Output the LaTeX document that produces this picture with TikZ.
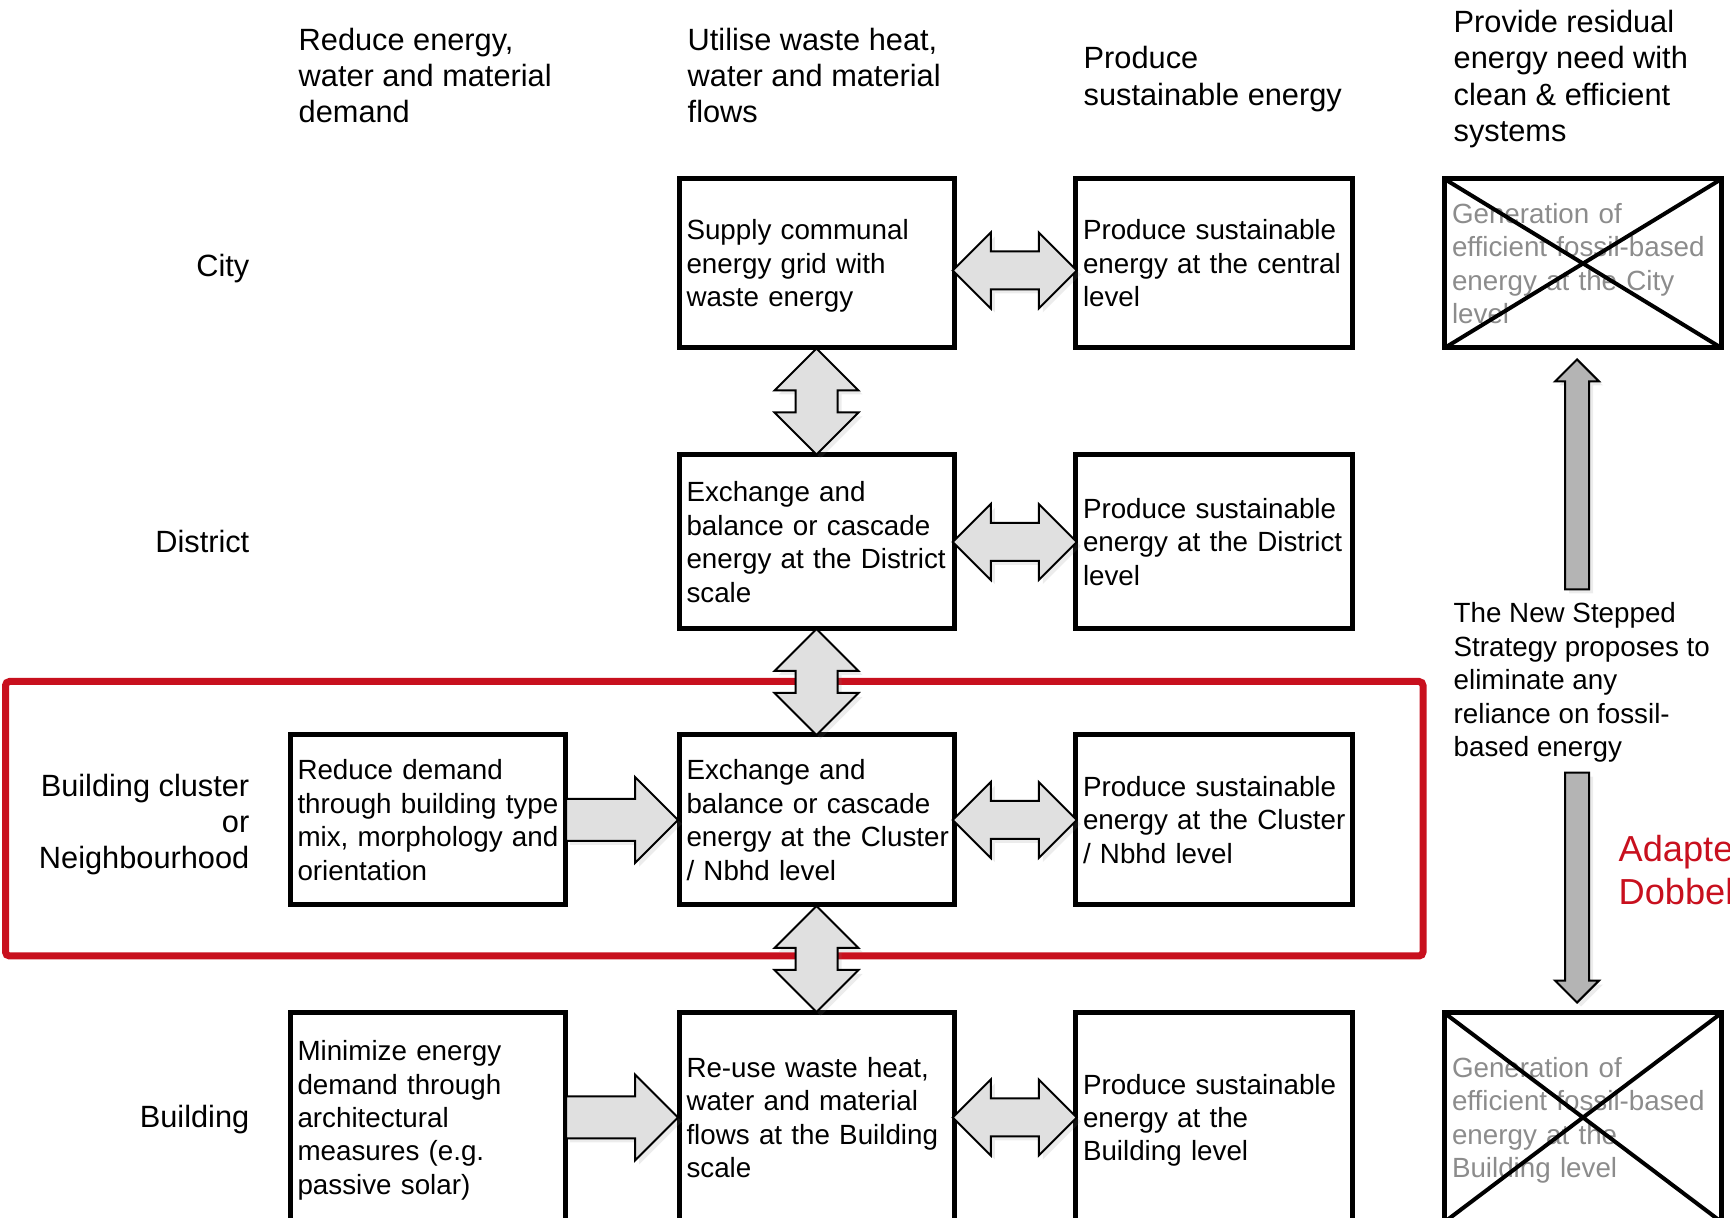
\documentclass[tikz,border=0pt]{standalone}
\usepackage{fontspec}
\setmainfont{Liberation Sans}
\usetikzlibrary{shapes.arrows,shadows,calc}

\definecolor{framered}{RGB}{200,16,30}
\definecolor{arrowgrey}{RGB}{224,224,224}
\definecolor{tallgrey}{RGB}{180,180,180}
\definecolor{crossgrey}{RGB}{140,140,140}

\newcommand{\boxfont}{\fontsize{7.9}{9.53}\selectfont}
\newcommand{\headfont}{\fontsize{8.75}{10.3}\selectfont}
\newcommand{\creditfont}{\fontsize{10.3}{12.2}\selectfont}
% lines of a box, never broken
\newcommand{\boxlines}[1]{\raisebox{-0.33mm}[\height][\depth]{\begin{tabular}{@{}l@{}}#1\end{tabular}}}

\begin{document}
\begin{tikzpicture}[x=0.1mm,y=-0.1mm,
  box/.style={draw,line width=0.5mm,outer sep=0pt,inner xsep=0.75mm,inner ysep=0.5mm,
    text width=26mm,align=left,font=\boxfont},
  wide/.style={text width=26.2mm},
  crossed/.style={box,text=crossgrey},
  head/.style={anchor=west,align=left,inner sep=0pt,font=\headfont},
  rowname/.style={anchor=east,align=right,inner sep=0pt,font=\headfont},
  flow/.style={draw,line width=0.2mm,fill=arrowgrey,inner xsep=0pt,
    drop shadow={opacity=0.15,shadow xshift=0.4mm,shadow yshift=-0.4mm}},
  twoway/.style={flow,double arrow,inner ysep=1.8mm,minimum width=7.4mm,
    double arrow head extend=1.9mm,minimum height=12.4mm},
  updown/.style={flow,double arrow,inner ysep=2mm,minimum width=8.2mm,
    double arrow head extend=2.1mm,minimum height=10.6mm,rotate=90},
  push/.style={flow,single arrow,inner ysep=2mm,minimum width=8.4mm,
    single arrow head extend=2.2mm,minimum height=11.2mm,anchor=tail},
  tall/.style={flow,fill=tallgrey,single arrow,inner ysep=1.1mm,minimum width=4.2mm,
    single arrow head extend=1mm,minimum height=23mm,anchor=tip}]
\useasboundingbox (0,0) rectangle (1730,1218);

% column heads
\node[head] (hreduce) at (298,75.5) {Reduce energy,\\water and material\\demand};
\node[head] (hutilise) at (687,75.5) {Utilise waste heat,\\water and material\\flows};
\node[head] (hproduce) at (1083,79) {Produce\\sustainable energy};
\node[head] (hprovide) at (1453,79) {Provide residual\\energy need with\\clean \& efficient\\systems};

% scale levels
\node[rowname] (lcity) at (250,268.5) {City};
\node[rowname] (ldist) at (250,542) {District};
\node[rowname] (lclus) at (250,824.5) {Building cluster\\or\\Neighbourhood};
\node[rowname] (lbldg) at (250,1119.5) {Building};

% highlighted level
\draw[framered,line width=0.7mm,rounded corners=0.4mm] (5.5,681.5) rectangle (1423,956);

% city
\node[box,minimum height=16.9mm] (city2) at (816.5,263.5) {\boxlines{Supply communal\\energy grid with\\waste energy}};
\node[box,wide,minimum height=16.9mm] (city3) at (1214,263.5) {\boxlines{Produce sustainable\\energy at the central\\level}};
\node[crossed,wide,minimum height=16.9mm] (cityx) at (1583,263.5) {\boxlines{Generation of\\efficient fossil-based\\energy at the City\\level}};

% district
\node[box,minimum height=17.4mm] (dist2) at (816.5,542) {\boxlines{Exchange and\\balance or cascade\\energy at the District\\scale}};
\node[box,wide,minimum height=17.4mm] (dist3) at (1214,542) {\boxlines{Produce sustainable\\energy at the District\\level}};

% cluster
\node[box,minimum height=17mm] (clus1) at (427.5,820) {\boxlines{Reduce demand\\through building type\\mix, morphology and\\orientation}};
\node[box,minimum height=17mm] (clus2) at (816.5,820) {\boxlines{Exchange and\\balance or cascade\\energy at the Cluster\\/ Nbhd level}};
\node[box,wide,minimum height=17mm] (clus3) at (1214,820) {\boxlines{Produce sustainable\\energy at the Cluster\\/ Nbhd level}};

% building
\node[box,minimum height=20.9mm] (bldg1) at (427.5,1117.5) {\boxlines{Minimize energy\\demand through\\architectural\\measures (e.g.\\passive solar)}};
\node[box,minimum height=20.9mm] (bldg2) at (816.5,1117.5) {\boxlines{Re-use waste heat,\\water and material\\flows at the Building\\scale}};
\node[box,wide,minimum height=20.9mm] (bldg3) at (1214,1117.5) {\boxlines{Produce sustainable\\energy at the\\Building level}};
\node[crossed,wide,minimum height=20.9mm] (bldgx) at (1583,1117.5) {\boxlines{Generation of\\efficient fossil-based\\energy at the\\Building level}};

\draw[line width=0.4mm] (cityx.north west) -- (cityx.south east) (cityx.south west) -- (cityx.north east);
\draw[line width=0.4mm] (bldgx.north west) -- (bldgx.south east) (bldgx.south west) -- (bldgx.north east);

% exchange between columns and levels
\node[twoway] (acity) at ($(city2.east)!0.5!(city3.west)+(0,7)$) {};
\node[twoway] (adist) at ($(dist2.east)!0.5!(dist3.west)$) {};
\node[twoway] (aclus) at ($(clus2.east)!0.5!(clus3.west)$) {};
\node[twoway] (abldg) at ($(bldg2.east)!0.5!(bldg3.west)$) {};
\node[updown] (vcd) at ($(city2.south)!0.5!(dist2.north)$) {};
\node[updown] (vdc) at ($(dist2.south)!0.5!(clus2.north)$) {};
\node[updown] (vcb) at ($(clus2.south)!0.5!(bldg2.north)$) {};
\node[push] (pclus) at (clus1.east) {};
\node[push] (pbldg) at (bldg1.east) {};

% new stepped strategy
\node[anchor=west,align=left,inner sep=0pt,font=\boxfont] (note) at (1453,682.6) {The New Stepped\\Strategy proposes to\\eliminate any\\reliance on fossil-\\based energy};
\node[tall,rotate=90] (upx) at ($(cityx.south)+(-6,10)$) {};
\node[tall,rotate=-90] (downx) at ($(bldgx.north)+(-6,-9)$) {};

\node[anchor=west,align=left,inner sep=0pt,font=\creditfont,text=framered] (credit) at (1618,870) {Adapted\\Dobbels};
\end{tikzpicture}
\end{document}
